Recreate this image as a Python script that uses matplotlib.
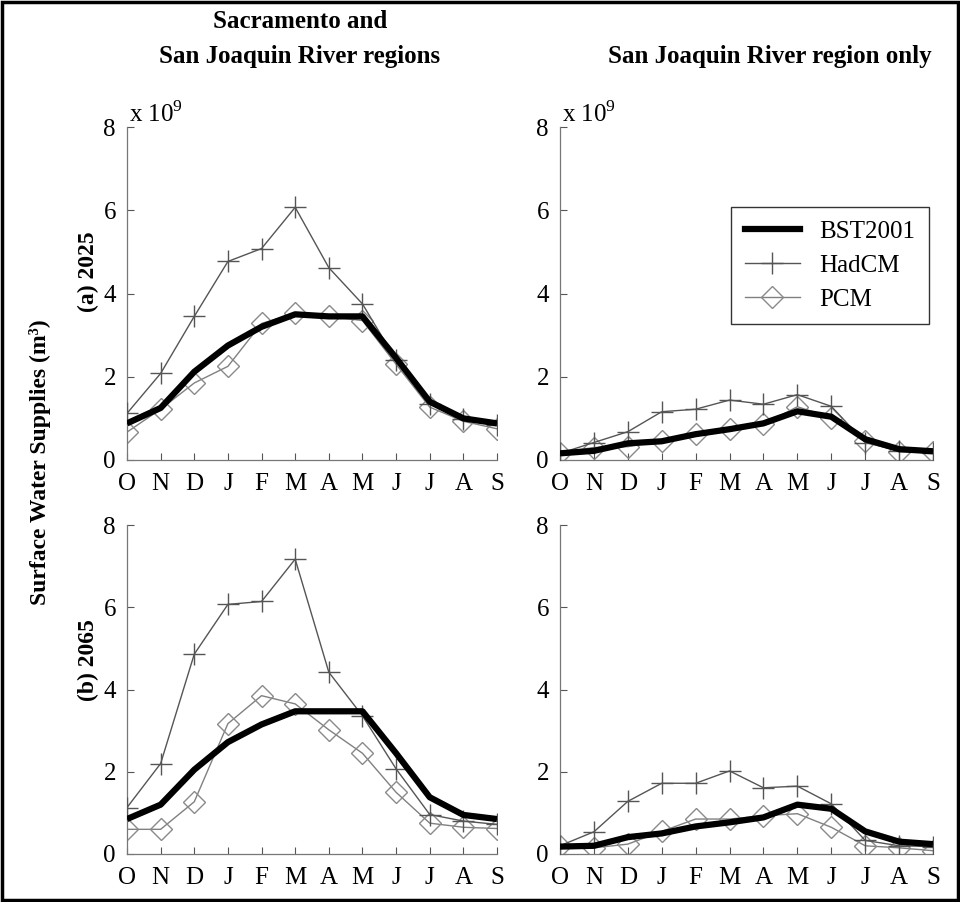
import numpy as np
import matplotlib.pyplot as plt
from matplotlib.patches import Rectangle
from matplotlib.lines import Line2D

plt.rcParams['font.family'] = ['Liberation Serif', 'DejaVu Serif']
plt.rcParams['mathtext.fontset'] = 'custom'
plt.rcParams['mathtext.rm'] = 'Liberation Serif'

months = ["O", "N", "D", "J", "F", "M", "A", "M", "J", "J", "A", "S"]

# monthly surface water supplies, units of 1e9 m^3
# (a) 2025, Sacramento + San Joaquin
bst_2025_all = [0.88, 1.25, 2.12, 2.75, 3.2, 3.5, 3.45, 3.45, 2.45, 1.4, 1.0, 0.88]
had_2025_all = [1.12, 2.08, 3.45, 4.77, 5.08, 6.07, 4.62, 3.75, 2.4, 1.35, 0.98, 0.85]
pcm_2025_all = [0.67, 1.22, 1.85, 2.25, 3.28, 3.52, 3.45, 3.35, 2.3, 1.27, 0.93, 0.75]
# (a) 2025, San Joaquin only
bst_2025_sj = [0.16, 0.22, 0.4, 0.45, 0.62, 0.74, 0.88, 1.17, 1.04, 0.5, 0.26, 0.21]
had_2025_sj = [0.16, 0.42, 0.68, 1.16, 1.22, 1.44, 1.34, 1.57, 1.29, 0.42, 0.22, 0.18]
pcm_2025_sj = [0.18, 0.3, 0.32, 0.46, 0.62, 0.74, 0.86, 1.28, 1.02, 0.45, 0.2, 0.2]
# (b) 2065, Sacramento + San Joaquin
bst_2065_all = [0.85, 1.2, 2.05, 2.72, 3.15, 3.47, 3.47, 3.47, 2.45, 1.38, 0.95, 0.85]
had_2065_all = [1.13, 2.2, 4.86, 6.07, 6.14, 7.17, 4.42, 3.36, 2.07, 0.96, 0.8, 0.72]
pcm_2065_all = [0.6, 0.6, 1.27, 3.17, 3.85, 3.65, 3.02, 2.45, 1.5, 0.75, 0.65, 0.62]
# (b) 2065, San Joaquin only
bst_2065_sj = [0.18, 0.2, 0.41, 0.5, 0.67, 0.77, 0.89, 1.2, 1.1, 0.55, 0.3, 0.24]
had_2065_sj = [0.2, 0.54, 1.28, 1.72, 1.72, 2.02, 1.61, 1.65, 1.22, 0.33, 0.2, 0.18]
pcm_2065_sj = [0.2, 0.15, 0.24, 0.55, 0.85, 0.85, 0.93, 0.98, 0.65, 0.2, 0.15, 0.08]

W, H = 960, 902
fig = plt.figure(figsize=(W / 100, H / 100), dpi=100)

PCM_STYLE = dict(color='#808080', lw=1.0, marker='D', ms=11.5,
                 mfc='none', mec='#8a8a8a', mew=1.0)
HAD_STYLE = dict(color='#555555', lw=1.0, marker='+', ms=16,
                 mec='#555555', mew=1.0)
BST_STYLE = dict(color='black', lw=4.5)


def px_axes(x0, y0, x1, y1):
    # pixel box (top-left origin) -> axes
    return fig.add_axes([x0 / W, 1 - y1 / H, (x1 - x0) / W, (y1 - y0) / H])


def panel(ax, bst, had, pcm, sci=False):
    x = np.arange(len(months))
    ax.plot(x, pcm, zorder=2, **PCM_STYLE)
    ax.plot(x, had, zorder=3, **HAD_STYLE)
    ax.plot(x, bst, solid_capstyle='butt', zorder=4, **BST_STYLE)
    ax.set_xlim(0, 11)
    ax.set_ylim(0, 8)
    ax.set_xticks(x)
    ax.set_xticklabels(months)
    ax.set_yticks([0, 2, 4, 6, 8])
    ax.tick_params(direction='in', length=5, width=0.8, color='#555555',
                   labelsize=18)
    ax.tick_params(axis='x', pad=9)
    ax.tick_params(axis='y', pad=8)
    for s in ['top', 'right']:
        ax.spines[s].set_visible(False)
    for s in ['left', 'bottom']:
        ax.spines[s].set_color('#777777')
        ax.spines[s].set_linewidth(0.9)
    ax.patch.set_alpha(0)
    if sci:
        ax.text(0.005, 1.0, r'x 10$^9$', transform=ax.transAxes,
                fontsize=18, va='bottom', ha='left')


ax1 = px_axes(127, 127, 497, 460)
ax2 = px_axes(560, 127, 933, 460)
ax3 = px_axes(127, 525, 497, 854)
ax4 = px_axes(560, 525, 933, 854)

panel(ax1, bst_2025_all, had_2025_all, pcm_2025_all, sci=True)
panel(ax2, bst_2025_sj, had_2025_sj, pcm_2025_sj, sci=True)
panel(ax3, bst_2065_all, had_2065_all, pcm_2065_all)
panel(ax4, bst_2065_sj, had_2065_sj, pcm_2065_sj)

handles = [Line2D([], [], **BST_STYLE),
           Line2D([], [], **HAD_STYLE),
           Line2D([], [], **PCM_STYLE)]
leg = ax2.legend(handles, ['BST2001', 'HadCM', 'PCM'], loc='upper right',
                 bbox_to_anchor=(0.99, 0.76), fontsize=18, frameon=True,
                 fancybox=False, edgecolor='black', handlelength=2.2,
                 handletextpad=0.8, borderpad=0.55, labelspacing=0.45,
                 borderaxespad=0)
leg.get_frame().set_linewidth(1.0)


def ftext(x, y, s, **kw):
    fig.text(x / W, 1 - y / H, s, **kw)


ftext(300, 22, 'Sacramento and', fontsize=18, fontweight='bold',
      ha='center', va='center')
ftext(300, 57, 'San Joaquin River regions', fontsize=18, fontweight='bold',
      ha='center', va='center')
ftext(770, 57, 'San Joaquin River region only', fontsize=18,
      fontweight='bold', ha='center', va='center')
ftext(88, 272, '(a) 2025', fontsize=17, fontweight='bold', rotation=90,
      ha='center', va='center')
ftext(88, 660, '(b) 2065', fontsize=17, fontweight='bold', rotation=90,
      ha='center', va='center')
ftext(40, 462, 'Surface Water Supplies (m³)', fontsize=17, fontweight='bold',
      rotation=90, ha='center', va='center')

# outer frame
fig.patches.append(Rectangle((0.002, 0.002), 0.996, 0.996,
                             transform=fig.transFigure, fill=False,
                             edgecolor='black', linewidth=2.5))

fig.savefig('out.png', dpi=100)
